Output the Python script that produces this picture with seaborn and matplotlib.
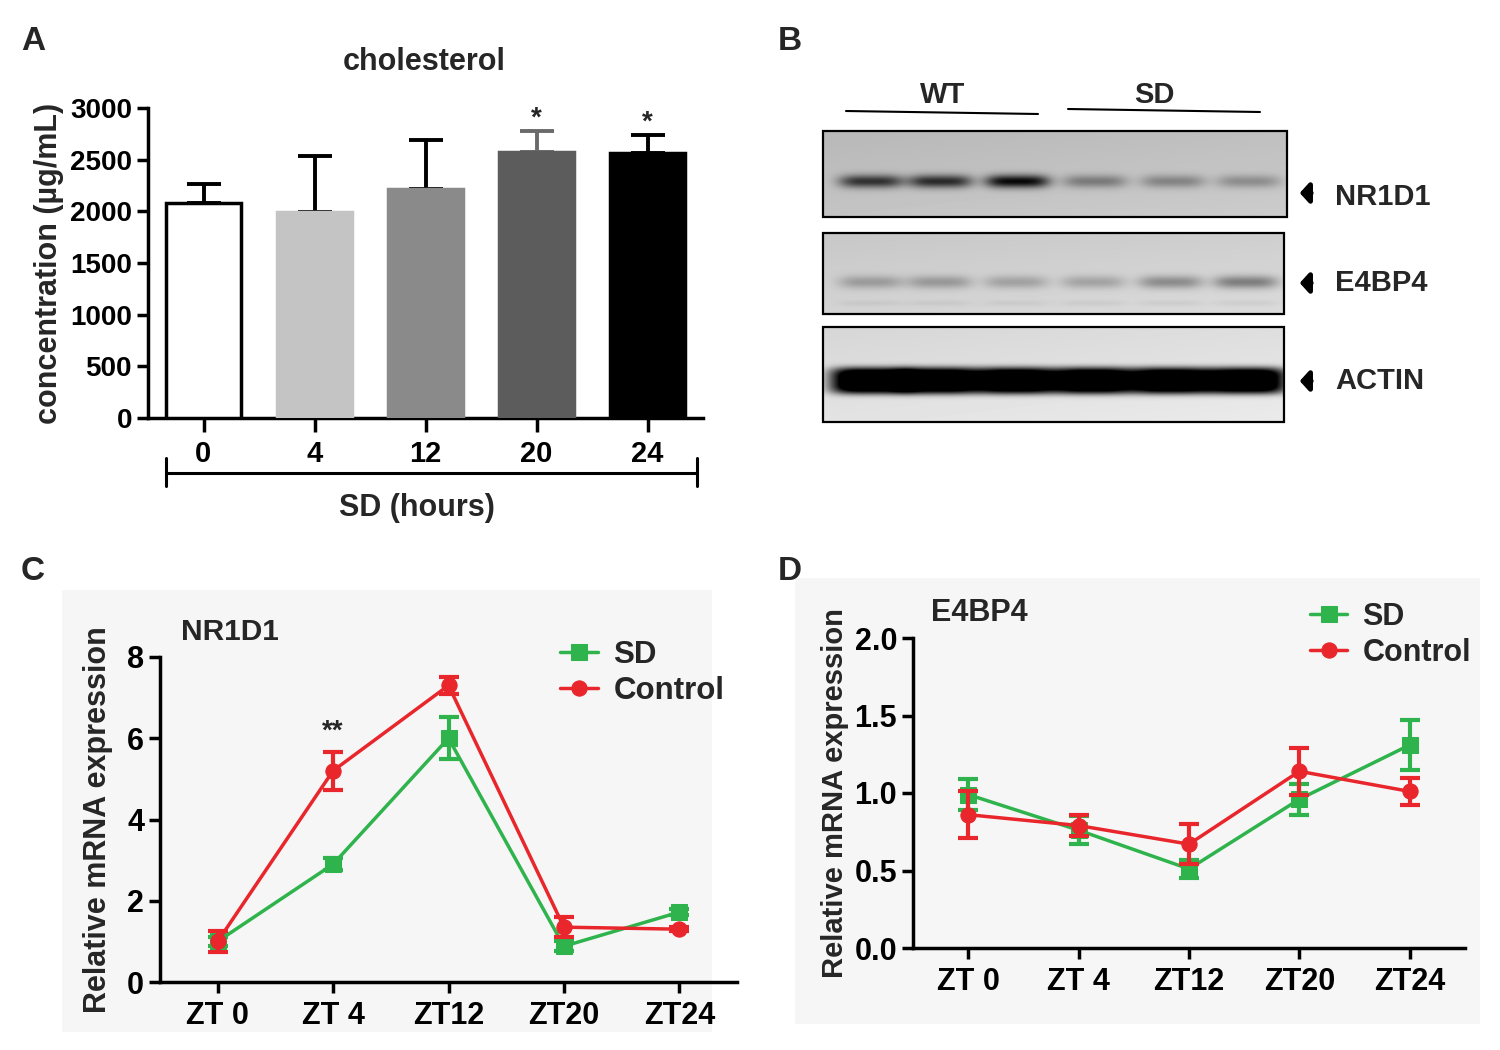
import numpy as np
import pandas as pd
import matplotlib
matplotlib.use("Agg")
import matplotlib.pyplot as plt
import seaborn as sns
from matplotlib.patches import Rectangle

sns.set_theme(style="ticks")
WIDE = ["Liberation Sans", "DejaVu Sans"]
plt.rcParams["font.family"] = WIDE
plt.rcParams["font.weight"] = "bold"

# ---------------- data ----------------
# Panel A
sd_hours = ["0", "4", "12", "20", "24"]
chol_mean = [2085, 1995, 2220, 2570, 2560]
chol_sem = [180, 545, 475, 205, 175]
chol_sig = ["", "", "", "*", "*"]
bar_colors = ["#ffffff", "#c4c4c4", "#8a8a8a", "#5c5c5c", "#000000"]
bar_err_colors = ["#000000", "#000000", "#000000", "#6a6a6a", "#000000"]

# Panel B (band intensities per lane)
blot_groups = ["WT", "SD"]
nr1d1_band = [0.70, 0.74, 0.92, 0.36, 0.32, 0.28]
e4bp4_band = [0.24, 0.26, 0.22, 0.22, 0.33, 0.40]
actin_band = [1.4, 1.4, 1.4, 1.4, 1.4, 1.4]
lane_pos = [0.103, 0.252, 0.418, 0.585, 0.753, 0.916]
blot_names = ["NR1D1", "E4BP4", "ACTIN"]

# Panel C
zt = ["ZT 0", "ZT 4", "ZT12", "ZT20", "ZT24"]
nr_sd = [1.0, 2.9, 6.0, 0.88, 1.72]
nr_sd_err = [0.12, 0.15, 0.52, 0.12, 0.08]
nr_ct = [1.0, 5.2, 7.3, 1.35, 1.3]
nr_ct_err = [0.25, 0.47, 0.2, 0.25, 0.05]

# Panel D
e4_sd = [0.99, 0.76, 0.51, 0.96, 1.31]
e4_sd_err = [0.10, 0.09, 0.06, 0.10, 0.16]
e4_ct = [0.86, 0.79, 0.67, 1.14, 1.01]
e4_ct_err = [0.15, 0.07, 0.13, 0.15, 0.09]

GREEN = "#2fb34c"
RED = "#e8262b"

fig = plt.figure(figsize=(15, 10.5), dpi=100)
fig.patch.set_facecolor("white")

# overlay axes in pixel coordinates
ov = fig.add_axes([0, 0, 1, 1])
ov.set_xlim(0, 1500)
ov.set_ylim(1050, 0)
ov.axis("off")

# light panel backgrounds for C and D
ov.add_patch(Rectangle((62, 590), 650, 442, fc="#f6f6f6", ec="none"))
ov.add_patch(Rectangle((795, 578), 685, 446, fc="#f6f6f6", ec="none"))

# panel letters
for lab, x, y in [("A", 33, 42), ("B", 790, 42), ("C", 33, 572), ("D", 790, 572)]:
    ov.text(x, y, lab, fontsize=24, fontweight="bold", ha="center", va="center")


def style_axes(ax, lw=2.5):
    sns.despine(ax=ax)
    for s in ["left", "bottom"]:
        ax.spines[s].set_linewidth(lw)
        ax.spines[s].set_color("black")
    ax.tick_params(direction="out", length=8, width=lw, colors="black")
    ax.set_facecolor("none")
    ax.grid(False)


# ---------------- Panel A ----------------
axA = fig.add_axes([148 / 1500, 1 - 418 / 1050, 555 / 1500, 310 / 1050])
dfA = pd.DataFrame({"hours": sd_hours, "conc": chol_mean})
sns.barplot(data=dfA, x="hours", y="conc", hue="hours", order=sd_hours, hue_order=sd_hours,
            palette=bar_colors, width=0.68, legend=False, ax=axA, errorbar=None, zorder=3)
for p, c in zip(axA.patches, bar_colors):
    p.set_edgecolor("black" if c == "#ffffff" else c)
    p.set_linewidth(2.5)
for i in range(len(sd_hours)):
    axA.errorbar(i, chol_mean[i], yerr=[[0], [chol_sem[i]]], fmt="none", ecolor=bar_err_colors[i],
                 elinewidth=2.8, capsize=12, capthick=2.8, zorder=2)
    if chol_sig[i]:
        axA.text(i, chol_mean[i] + chol_sem[i] + 120, chol_sig[i], ha="center", va="center",
                 fontsize=20, fontweight="bold")
axA.set_xlim(-0.5, 4.5)
axA.set_ylim(0, 3000)
axA.set_yticks(range(0, 3001, 500))
axA.set_xlabel("")
axA.set_ylabel("concentration (µg/mL)", fontsize=22, fontweight="bold", labelpad=4)
style_axes(axA)
axA.tick_params(axis="y", labelsize=20)
axA.tick_params(axis="x", labelsize=21, pad=6, length=10)
ov.text(424, 62, "cholesterol", fontsize=22, fontweight="bold", ha="center", va="center")
# x-axis bracket
ov.plot([166, 697], [473, 473], color="black", lw=2.2)
ov.plot([166, 166], [458, 486], color="black", lw=2.2)
ov.plot([697, 697], [458, 486], color="black", lw=2.2)
ov.text(417, 508, "SD (hours)", fontsize=22, fontweight="bold", ha="center", va="center")


# ---------------- Panel B ----------------
def blot_image(bands, fracs, w, h, bg, yfrac, sx, sy, px=4, py=2, second=0.0):
    xs = np.arange(w)[None, :]
    ys = np.arange(h)[:, None]
    img = np.full((h, w), bg, float)
    img = img - 0.05 * (1 - ys / h) - 0.03 * (1 - xs / w)
    for amp, f in zip(bands, fracs):
        cx = f * w
        cy = yfrac * h
        img -= amp * bg * np.exp(-np.abs((xs - cx) / sx) ** px - np.abs((ys - cy) / sy) ** py)
        if second:
            img -= second * bg * np.exp(-np.abs((xs - cx) / sx) ** px - np.abs((ys - 0.86 * h) / 3) ** 2)
    return np.clip(img, 0, 1)


boxes = [
    (nr1d1_band, 823, 1287, 131, 217, 0.80, 0.58, 32, 6.5, 4, 2, 0.0),
    (e4bp4_band, 823, 1284, 233, 314, 0.86, 0.60, 32, 6.5, 4, 2, 0.05),
    (actin_band, 823, 1284, 327, 422, 0.92, 0.56, 40, 13, 4, 4, 0.0),
]
label_y = [197, 283, 381]
for (bands, x0, x1, y0, y1, bg, yf, sx, sy, pxp, pyp, sec), name, ly in zip(boxes, blot_names, label_y):
    img = blot_image(bands, lane_pos, x1 - x0, y1 - y0, bg, yf, sx, sy, pxp, pyp, sec)
    ov.imshow(img, cmap="gray", vmin=0, vmax=1, extent=(x0, x1, y1, y0), aspect="auto",
              interpolation="bilinear")
    ov.add_patch(Rectangle((x0, y0), x1 - x0, y1 - y0, fc="none", ec="black", lw=1.6))
    ay = ly - 4 if name == "NR1D1" else ly
    ov.annotate("", xy=(1297, ay), xytext=(1314, ay),
                arrowprops=dict(arrowstyle="-|>,head_length=0.45,head_width=0.5", color="black", lw=3.5))
    ov.text(1335, ly, name, fontsize=21, fontweight="bold", ha="left", va="center")
ov.set_xlim(0, 1500)
ov.set_ylim(1050, 0)
ov.plot([846, 1038], [111, 114], color="black", lw=1.5)
ov.plot([1068, 1260], [109, 112], color="black", lw=1.5)
ov.text(943, 95, blot_groups[0], fontsize=21, fontweight="bold", ha="center", va="center")
ov.text(1154, 95, blot_groups[1], fontsize=21, fontweight="bold", ha="center", va="center")


# ---------------- Panels C & D ----------------
def line_panel(ax, sd, sd_err, ct, ct_err, ylim, yticks, yfmt):
    x = np.arange(len(zt))
    dfl = pd.DataFrame({"x": np.concatenate([x, x]),
                        "y": np.concatenate([sd, ct]),
                        "group": ["SD"] * len(x) + ["Control"] * len(x)})
    sns.lineplot(data=dfl[dfl.group == "SD"], x="x", y="y", color=GREEN, marker="s", markersize=11,
                 markeredgecolor=GREEN, linewidth=2.5, ax=ax, label="SD", zorder=3)
    ax.errorbar(x, sd, yerr=sd_err, fmt="none", ecolor=GREEN, elinewidth=3, capsize=7, capthick=3, zorder=3)
    sns.lineplot(data=dfl[dfl.group == "Control"], x="x", y="y", color=RED, marker="o", markersize=11,
                 markeredgecolor=RED, linewidth=2.5, ax=ax, label="Control", zorder=4)
    ax.errorbar(x, ct, yerr=ct_err, fmt="none", ecolor=RED, elinewidth=3, capsize=7, capthick=3, zorder=4)
    ax.set_xlim(-0.5, 4.5)
    ax.set_ylim(*ylim)
    ax.set_yticks(yticks)
    ax.set_yticklabels([yfmt.format(v) for v in yticks])
    ax.set_xticks(x)
    ax.set_xticklabels(zt)
    ax.set_xlabel("")
    style_axes(ax)
    ax.tick_params(axis="both", labelsize=22)
    ax.tick_params(axis="x", pad=6)


axC = fig.add_axes([160 / 1500, 1 - 982 / 1050, 577 / 1500, 325 / 1050])
line_panel(axC, nr_sd, nr_sd_err, nr_ct, nr_ct_err, (0, 8), [0, 2, 4, 6, 8], "{:g}")
axC.set_ylabel("Relative mRNA expression", fontsize=22, fontweight="bold", labelpad=10)
axC.text(1, nr_ct[1] + nr_ct_err[1] + 0.5, "**", ha="center", va="center", fontsize=20, fontweight="bold")
axC.legend(loc="upper left", bbox_to_anchor=(0.645, 1.14), frameon=False, fontsize=22.5,
           handlelength=1.2, handletextpad=0.5, labelspacing=0.2)
ov.text(181, 632, "NR1D1", fontsize=21.5, fontweight="bold", ha="left", va="center")

axD = fig.add_axes([913 / 1500, 1 - 948 / 1050, 552 / 1500, 310 / 1050])
line_panel(axD, e4_sd, e4_sd_err, e4_ct, e4_ct_err, (0, 2), [0, 0.5, 1.0, 1.5, 2.0], "{:.1f}")
axD.set_ylabel("Relative mRNA expression", fontsize=21, fontweight="bold", labelpad=4)
axD.legend(loc="upper left", bbox_to_anchor=(0.67, 1.205), frameon=False, fontsize=22,
           handlelength=1.2, handletextpad=0.5, labelspacing=0.2)
ov.text(931, 613, "E4BP4", fontsize=22, fontweight="bold", ha="left", va="center")

fig.savefig("out.png", dpi=100, facecolor="white")
